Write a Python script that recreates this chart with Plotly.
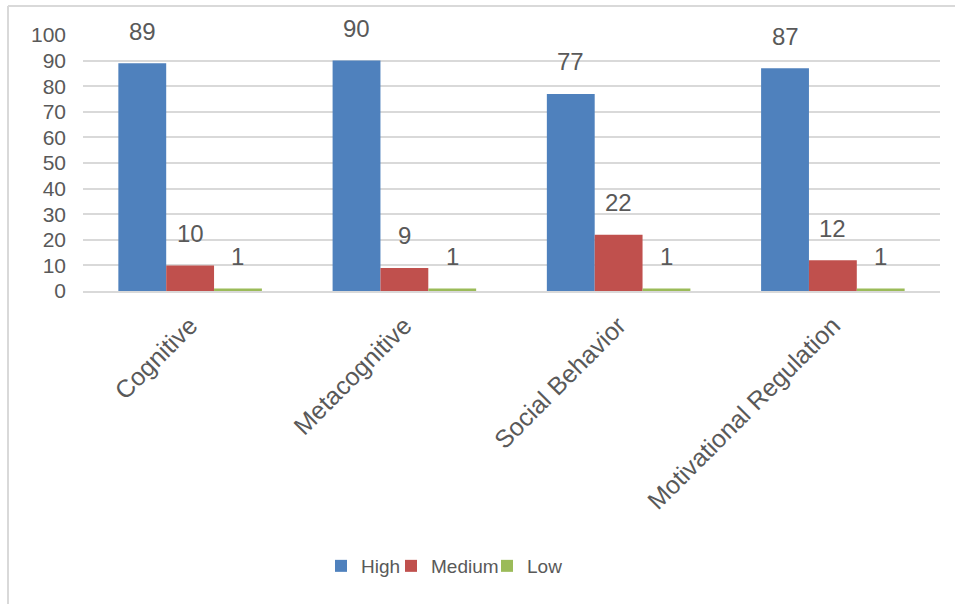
import plotly.graph_objects as go

categories = ["Cognitive", "Metacognitive", "Social Behavior", "Motivational Regulation"]
high = [89, 90, 77, 87]
medium = [10, 9, 22, 12]
low = [1, 1, 1, 1]
series_names = ["High", "Medium", "Low"]
colors = ["#4F81BD", "#C0504D", "#9BBB59"]

FONT = "Liberation Sans, Arial, sans-serif"
GRAY = "#595959"
W, H = 955, 604
ML, MR, MT, MB = 83, 15, 35, 313
BARGAP = 0.33

pw = W - ML - MR
ph = H - MT - MB
def px_x(px):
    return (px - ML) / pw
def px_y(py):
    return (H - MB - py) / ph

legend_ids = ["legend", "legend2", "legend3"]
legend_px = [321, 391, 487]

fig = go.Figure()
for name, vals, col, lid in zip(series_names, [high, medium, low], colors, legend_ids):
    fig.add_trace(go.Bar(x=categories, y=vals, name=name, legend=lid,
                         marker=dict(color=col, line=dict(width=0)), cliponaxis=False))

# data labels above bars
w = (1 - BARGAP) / 3
annotations = []
for j, vals in enumerate([high, medium, low]):
    for i, v in enumerate(vals):
        annotations.append(dict(
            x=i + (j - 1) * w, y=v, xref="x", yref="y",
            text=str(v), showarrow=False, yanchor="middle", yshift=32,
            font=dict(family=FONT, size=24, color=GRAY)))

shapes = [
    dict(type="line", xref="paper", yref="paper", x0=px_x(8), x1=px_x(8), y0=px_y(6), y1=px_y(604),
         line=dict(color="#d9d9d9", width=2)),
    dict(type="line", xref="paper", yref="paper", x0=px_x(8), x1=px_x(960), y0=px_y(6), y1=px_y(6),
         line=dict(color="#d9d9d9", width=2)),
]

legend_common = dict(orientation="h", xanchor="left", yanchor="middle", y=px_y(566),
                     font=dict(family=FONT, size=19, color=GRAY), itemwidth=30,
                     itemclick=False, bgcolor="rgba(0,0,0,0)", borderwidth=0)
layout_legends = {}
for lid, lx in zip(legend_ids, legend_px):
    layout_legends[lid] = dict(legend_common, x=px_x(lx))

fig.update_layout(
    width=W, height=H,
    margin=dict(l=ML, r=MR, t=MT, b=MB),
    paper_bgcolor="white", plot_bgcolor="white",
    barmode="group", bargap=BARGAP, bargroupgap=0,
    font=dict(family=FONT, size=20, color=GRAY),
    annotations=annotations,
    shapes=shapes,
    showlegend=True,
    **layout_legends,
)
fig.update_xaxes(tickangle=-45, tickfont=dict(family=FONT, size=25, color=GRAY),
                 showline=True, linecolor="#d9d9d9", linewidth=2, ticks="", ticklabelstandoff=8)
fig.update_yaxes(range=[0, 100], dtick=10, tickfont=dict(family=FONT, size=21, color=GRAY),
                 showgrid=True, gridcolor="#d9d9d9", gridwidth=1.5, zeroline=False,
                 showline=False, ticklabelstandoff=16)

fig.write_html("out.html")
